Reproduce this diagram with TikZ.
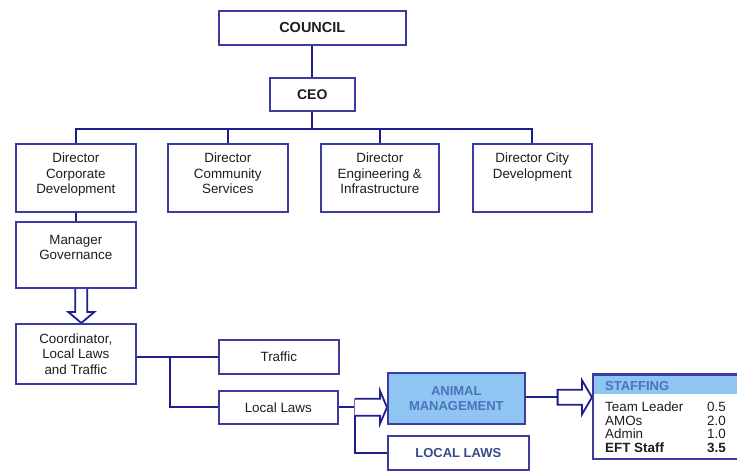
\documentclass[tikz,border=0pt]{standalone}
\usepackage{fontspec}
\setmainfont{Liberation Sans}
\usetikzlibrary{calc}
\definecolor{bx}{RGB}{60,60,160}
\definecolor{ln}{RGB}{30,30,140}
\definecolor{lb}{RGB}{142,197,242}
\definecolor{at}{RGB}{75,115,185}
\definecolor{lt}{RGB}{55,75,140}
\definecolor{tx}{RGB}{30,30,30}
\pgfdeclarelayer{bgl}
\pgfdeclarelayer{cnl}
\pgfsetlayers{bgl,cnl,main}
\begin{document}
\begin{tikzpicture}[x=1pt,y=-1pt,
  box/.style={draw=bx,line width=1.6pt,fill=white,inner sep=0pt,anchor=north west,align=center,text=tx,font=\fontsize{13.4}{15.5}\selectfont},
  txt/.style={inner sep=0pt,align=center,text=tx,anchor=north,font=\fontsize{13.4}{15.5}\selectfont},
  conn/.style={draw=ln,line width=2.1pt},
  hol/.style={draw=ln,line width=1.8pt,fill=white,line join=miter},
  row/.style={inner sep=0pt,text=tx,font=\fontsize{13.4}{13.5}\selectfont}]
\useasboundingbox (0,0) rectangle (737,471);
\begin{pgfonlayer}{bgl}
\fill[white] (0,0) rectangle (737,471);
\end{pgfonlayer}
% boxes
\node[box,minimum width=187,minimum height=34,font=\bfseries\fontsize{14.5}{16}\selectfont] (council) at (218,10) {COUNCIL};
\node[box,minimum width=85,minimum height=33,font=\bfseries\fontsize{14}{16}\selectfont] (ceo) at (269,77) {CEO};
\node[box,minimum width=120,minimum height=68] (d1) at (15,143) {};
\node[box,minimum width=120,minimum height=68] (d2) at (167,143) {};
\node[box,minimum width=118,minimum height=68] (d3) at (320,143) {};
\node[box,minimum width=119,minimum height=68] (d4) at (472,143) {};
\node[txt] (d1t) at ($(d1.north)+(0,10)$) {Director\\Corporate\\Development};
\node[txt] (d2t) at ($(d2.north)+(0,10)$) {Director\\Community\\Services};
\node[txt] (d3t) at ($(d3.north)+(0,10)$) {Director\\Engineering \&\\Infrastructure};
\node[txt] (d4t) at ($(d4.north)+(0,10)$) {Director City\\Development};
\node[box,minimum width=120,minimum height=66] (mg) at (15,221) {};
\node[txt] (mgt) at ($(mg.north)+(0,14)$) {Manager\\Governance};
\node[box,minimum width=120,minimum height=60] (co) at (15,323) {Coordinator,\\Local Laws\\and Traffic};
\node[box,minimum width=120,minimum height=34] (tr) at (218,339) {Traffic};
\node[box,minimum width=119,minimum height=33] (ll) at (218,390) {Local Laws};
\node[box,minimum width=137,minimum height=51,fill=lb,text=at,font=\bfseries\fontsize{13}{15}\selectfont] (am) at (387,372) {ANIMAL\\MANAGEMENT};
\node[box,minimum width=141,minimum height=34,text=lt,font=\bfseries\fontsize{13}{15}\selectfont] (lw) at (387,435) {LOCAL LAWS};
\node[box,minimum width=160,minimum height=84,
  path picture={\fill[lb] (path picture bounding box.north west) rectangle ([yshift=-19pt]path picture bounding box.north east);}] (st) at (592,374) {};
\draw[bx,line width=1.6pt] (st.north west) -- (st.north east);
\node[inner sep=0pt,anchor=base west,text=at,font=\bfseries\fontsize{13}{15}\selectfont] (sth) at ($(st.north west)+(13,16.5)$) {STAFFING};
\node[row,anchor=base west] (r1) at ($(st.north west)+(13,37.7)$) {Team Leader};
\node[row,anchor=base west] (r2) at ($(st.north west)+(13,51.7)$) {AMOs};
\node[row,anchor=base west] (r3) at ($(st.north west)+(13,64.7)$) {Admin};
\node[row,anchor=base west,font=\bfseries\fontsize{13.4}{13.5}\selectfont] (r4) at ($(st.north west)+(13,78.7)$) {EFT Staff};
\node[row,anchor=base east] (v1) at ($(st.north west)+(134,37.7)$) {0.5};
\node[row,anchor=base east] (v2) at ($(st.north west)+(134,51.7)$) {2.0};
\node[row,anchor=base east] (v3) at ($(st.north west)+(134,64.7)$) {1.0};
\node[row,anchor=base east,font=\bfseries\fontsize{13.4}{13.5}\selectfont] (v4) at ($(st.north west)+(134,78.7)$) {3.5};
% connectors
\coordinate (bar) at ($(ceo.south)+(0,17)$);
\coordinate (jn) at ($(co.east)+(33,3)$);
\coordinate (j2) at ($(ll.east)+(16,0)$);
\coordinate (a1) at ($(mg.south)+(5.5,0)$);
\coordinate (a3) at ($(am.east)+(32,-1)$);
\begin{pgfonlayer}{cnl}
\draw[conn] (council.south) -- (ceo.north);
\draw[conn] (ceo.south) -- (bar);
\draw[conn] (d1.north) |- (bar) -| (d4.north);
\draw[conn] (d2.north) -- (d2.north |- bar);
\draw[conn] (d3.north) -- (d3.north |- bar);
\draw[conn] (d1.south) -- (mg.north);
\draw[conn] (jn -| co.east) -- (jn -| tr.west);
\draw[conn] (jn) |- (ll.west);
\draw[conn] (ll.east) -- (j2);
\draw[conn] ($(j2)+(0,-8.5)$) |- (lw.west);
\draw[conn] (am.east |- a3) -- (a3);
\draw[hol] let \p1=(a1), \p2=(a1 |- co.north) in
  (\x1-6pt,\y1) -- (\x1-6pt,\y2+11pt) -- (\x1-13pt,\y2+11pt) -- (\x1,\y2)
  -- (\x1+13pt,\y2+11pt) -- (\x1+6pt,\y2+11pt) -- (\x1+6pt,\y1);
\draw[hol] let \p1=(j2), \p2=(j2 -| am.west) in
  (\x1,\y1+8.5pt) -- (\x2-7pt,\y1+8.5pt) -- (\x2-7pt,\y1+16.5pt) -- (\x2,\y1)
  -- (\x2-7pt,\y1-16.5pt) -- (\x2-7pt,\y1-8.5pt) -- (\x1,\y1-8.5pt);
\draw[hol] let \p1=(a3), \p2=(a3 -| st.west) in
  (\x1,\y1+7.5pt) -- (\x2-10pt,\y1+7.5pt) -- (\x2-10pt,\y1+17pt) -- (\x2,\y1)
  -- (\x2-10pt,\y1-17pt) -- (\x2-10pt,\y1-7.5pt) -- (\x1,\y1-7.5pt) -- cycle;
\end{pgfonlayer}
\end{tikzpicture}
\end{document}
